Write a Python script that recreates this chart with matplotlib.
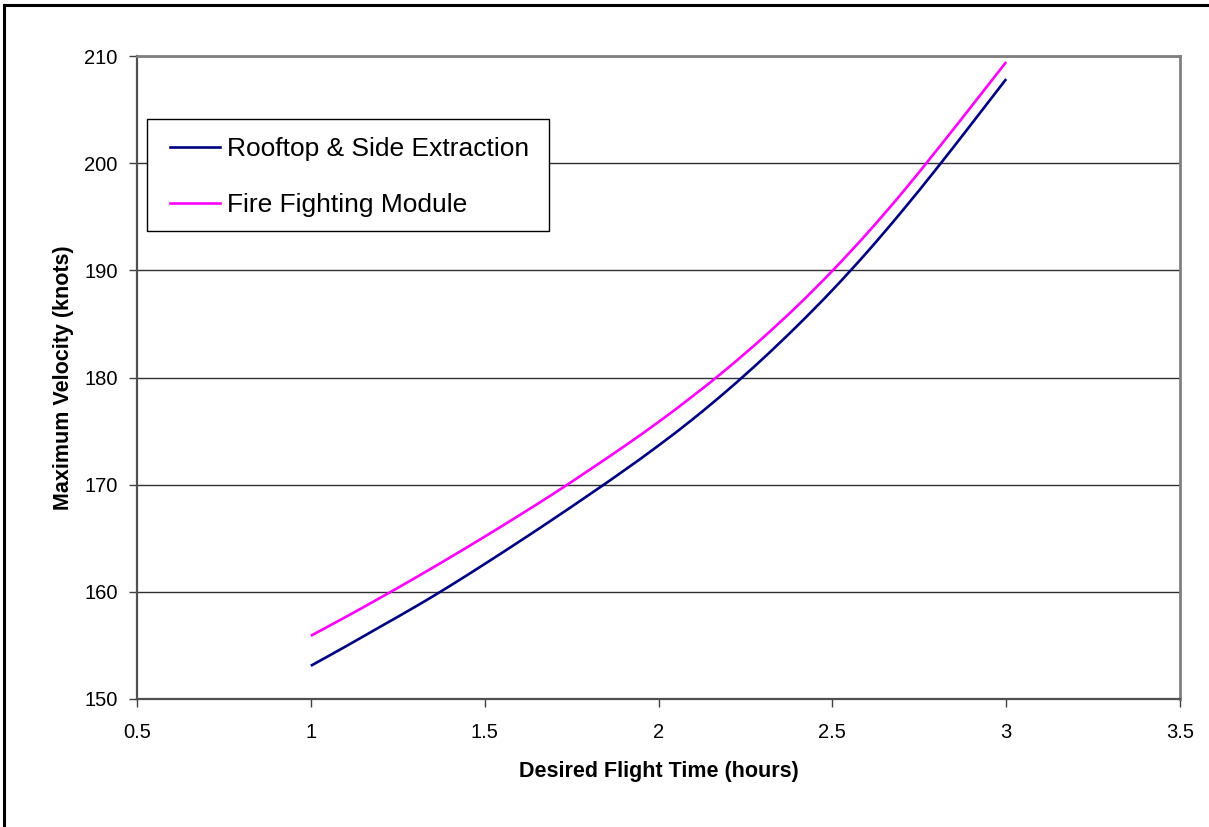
import numpy as np
import matplotlib
matplotlib.use('Agg')
import matplotlib.pyplot as plt
from matplotlib.lines import Line2D
from matplotlib.patches import Rectangle, PathPatch
from matplotlib.path import Path
from matplotlib.ticker import FuncFormatter

plt.rcParams['font.family'] = ['Liberation Sans', 'DejaVu Sans']

# data
flight_time = [1.0, 1.1, 1.2, 1.3, 1.4, 1.5, 1.6, 1.7, 1.8, 1.9, 2.0,
               2.1, 2.2, 2.3, 2.4, 2.5, 2.6, 2.7, 2.8, 2.9, 3.0]
rooftop_side = [153.1, 154.9, 156.75, 158.6, 160.55, 162.6, 164.7, 166.85, 169.05, 171.3, 173.65,
                176.15, 178.85, 181.75, 184.85, 188.15, 191.7, 195.5, 199.5, 203.65, 207.85]
fire_fighting = [155.9, 157.65, 159.45, 161.3, 163.2, 165.15, 167.15, 169.2, 171.35, 173.55, 175.85,
                 178.3, 180.9, 183.7, 186.7, 189.95, 193.45, 197.2, 201.2, 205.3, 209.44]
series_names = ['Rooftop & Side Extraction', 'Fire Fighting Module']
series_colors = ['#000080', '#FF00FF']
x_ticks = [0.5, 1, 1.5, 2, 2.5, 3, 3.5]
y_ticks = [150, 160, 170, 180, 190, 200, 210]


def smooth_path(xs, ys):
    # Catmull-Rom -> cubic Bezier, like a spreadsheet "smoothed line"
    p = np.column_stack([xs, ys]).astype(float)
    p_ext = np.vstack([p[0], p, p[-1]])
    verts = [p[0]]
    codes = [Path.MOVETO]
    for i in range(1, len(p_ext) - 2):
        p0, p1, p2, p3 = p_ext[i - 1], p_ext[i], p_ext[i + 1], p_ext[i + 2]
        verts += [p1 + (p2 - p0) / 6, p2 - (p3 - p1) / 6, p2]
        codes += [Path.CURVE4] * 3
    return Path(verts, codes)


W, H = 1209, 827
fig = plt.figure(figsize=(W / 100, H / 100), dpi=100)
ax = fig.add_axes([137 / W, 1 - 699 / H, (1180 - 137) / W, (699 - 56) / H])

handles = []
for ys, name, col in zip([rooftop_side, fire_fighting], series_names, series_colors):
    ax.add_patch(PathPatch(smooth_path(flight_time, ys), fill=False, edgecolor=col,
                           lw=1.9, capstyle='butt', joinstyle='round'))
    handles.append(Line2D([], [], color=col, lw=1.9, label=name))

ax.set_xlim(0.5, 3.5)
ax.set_ylim(150, 210)
ax.set_xticks(x_ticks)
ax.set_yticks(y_ticks)
ax.xaxis.set_major_formatter(FuncFormatter(lambda v, p: '%g' % v))
ax.tick_params(axis='both', labelsize=14.5, direction='out', length=6, width=1, color='#404040')
ax.tick_params(axis='y', pad=8)
ax.tick_params(axis='x', pad=11)

# horizontal grid only
ax.yaxis.grid(True, color='#303030', lw=1)
ax.set_axisbelow(True)

for s in ['top', 'right']:
    ax.spines[s].set_color('#808080')
    ax.spines[s].set_linewidth(2)
for s in ['left', 'bottom']:
    ax.spines[s].set_color('#505050')
    ax.spines[s].set_linewidth(1.6)

ax.set_xlabel('Desired Flight Time (hours)', fontsize=15.5, fontweight='bold', labelpad=14)
ax.set_ylabel('Maximum Velocity (knots)', fontsize=15.5, fontweight='bold', labelpad=7.5)

# legend box drawn separately so its padding matches the original
ax.add_patch(Rectangle((147 / W, 1 - 231 / H), (549 - 147) / W, (231 - 119) / H,
                       transform=fig.transFigure, facecolor='white', edgecolor='black',
                       lw=1, zorder=4, clip_on=False))
leg = ax.legend(handles=handles, loc='upper left', bbox_to_anchor=(170 / W, 1 - 137 / H),
                bbox_transform=fig.transFigure, borderaxespad=0, borderpad=0, fontsize=19,
                frameon=False, handlelength=1.9, handletextpad=0.25, labelspacing=1.21)
leg.set_zorder(6)

# outer chart border (left and top visible)
fig.add_artist(Line2D([4 / W, 4 / W], [0, 1 - 5 / H], transform=fig.transFigure, color='black', lw=2.2))
fig.add_artist(Line2D([4 / W, 1], [1 - 5 / H, 1 - 5 / H], transform=fig.transFigure, color='black', lw=2.2))

fig.savefig('out.png', dpi=100)
